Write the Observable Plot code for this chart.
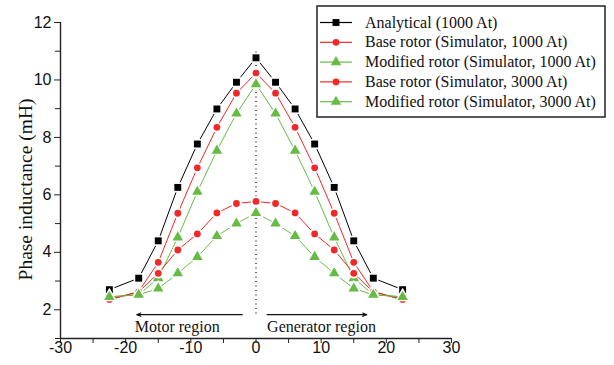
<!DOCTYPE html>
<html>
<head>
<meta charset="utf-8">
<script src="https://cdn.jsdelivr.net/npm/d3@7"></script>
<script src="https://cdn.jsdelivr.net/npm/@observablehq/plot@0.6"></script>
<style>
  html, body { margin: 0; padding: 0; background: white; }
  #wrap { position: relative; width: 614px; height: 365px; }
  #legend { position: absolute; left: 316px; top: 5px; }
</style>
</head>
<body>
<div id="wrap"></div>
<script>
// ---- data ----
const angles = [-22.5, -18, -15, -12, -9, -6, -3, 0, 3, 6, 9, 12, 15, 18, 22.5];
const analytical1000 = [2.70, 3.10, 4.40, 6.26, 7.77, 8.99, 9.92, 10.77, 9.92, 8.99, 7.77, 6.26, 4.40, 3.10, 2.70];
const base1000       = [2.34, 2.64, 3.65, 5.36, 6.94, 8.35, 9.54, 10.24, 9.54, 8.35, 6.94, 5.36, 3.65, 2.64, 2.34];
const modified1000   = [2.45, 2.53, 3.10, 4.52, 6.11, 7.54, 8.83, 9.85, 8.83, 7.54, 6.11, 4.52, 3.10, 2.53, 2.45];
const base3000       = [2.36, 2.62, 3.27, 4.08, 4.64, 5.37, 5.70, 5.77, 5.70, 5.37, 4.64, 4.08, 3.27, 2.62, 2.36];
const modified3000   = [2.45, 2.52, 2.74, 3.27, 3.84, 4.57, 5.00, 5.37, 5.00, 4.57, 3.84, 3.27, 2.74, 2.52, 2.45];

const seriesNames = [
  "Analytical (1000 At)",
  "Base rotor (Simulator, 1000 At)",
  "Modified rotor (Simulator, 1000 At)",
  "Base rotor (Simulator, 3000 At)",
  "Modified rotor (Simulator, 3000 At)"
];
const seriesValues = [analytical1000, base1000, modified1000, base3000, modified3000];
const seriesColors = ["#000000", "#f02828", "#66bb44", "#f02828", "#66bb44"];
const seriesSymbols = ["square", "circle", "triangle", "circle", "triangle"];
const seriesRadius = [3.9, 3.4, 3.9, 3.4, 3.9];

const xTicks = [-30, -25, -20, -15, -10, -5, 0, 5, 10, 15, 20, 25, 30];
const yTicksMajor = [2, 4, 6, 8, 10, 12];
const yTicksMinor = [1, 3, 5, 7, 9, 11];

const dividerX = [0];
const dividerSpan = [1.85, 11.05];
const regionArrows = [
  {x1: -2.1, x2: -18.3, y: 1.83},
  {x1: 1.7, x2: 17.0, y: 1.83}
];
const regionLabels = [
  {x: -18.6, y: 1.40, text: "Motor region"},
  {x: 1.7, y: 1.40, text: "Generator region"}
];
const yLabel = "Phase inductance (mH)";

// ---- chart ----
const serif = "'Liberation Serif', 'Times New Roman', serif";
const sans = "'Liberation Sans', Arial, sans-serif";

const seriesMarks = seriesValues.flatMap((vals, k) => {
  const data = angles.map((a, i) => ({x: a, y: vals[i]}));
  return [
    Plot.line(data, {x: "x", y: "y", stroke: seriesColors[k], strokeWidth: 1}),
    Plot.dot(data, {x: "x", y: "y", r: seriesRadius[k] + 1.8, symbol: seriesSymbols[k], fill: "white", stroke: "none"}),
    Plot.dot(data, {x: "x", y: "y", r: seriesRadius[k], symbol: seriesSymbols[k], fill: seriesColors[k], stroke: "none"})
  ];
});

const chart = Plot.plot({
  width: 614,
  height: 365,
  marginLeft: 60,
  marginRight: 163,
  marginTop: 22,
  marginBottom: 27,
  style: {background: "white", overflow: "visible"},
  x: {domain: [-30, 30]},
  y: {domain: [1, 12]},
  marks: [
    Plot.ruleX(dividerX, {y1: dividerSpan[0], y2: dividerSpan[1], stroke: "#000", strokeWidth: 1.2, strokeDasharray: "1.2,3.3"}),
    ...seriesMarks,
    Plot.arrow(regionArrows, {x1: "x1", y1: "y", x2: "x2", y2: "y", stroke: "#111", strokeWidth: 1.1, headLength: 6, headAngle: 45}),
    Plot.text(regionLabels, {x: "x", y: "y", text: "text", textAnchor: "start", fontFamily: serif, fontSize: 16, fill: "#111"}),
    Plot.axisX({ticks: xTicks, tickFormat: d => d % 10 === 0 ? String(d) : "", tickSize: 5, tickPadding: -2, fontSize: 16, fontFamily: sans, label: null, stroke: "#222", color: "#111"}),
    Plot.axisY({ticks: yTicksMajor, tickFormat: d => String(d), tickSize: 6, tickPadding: 3, fontSize: 16, fontFamily: sans, label: null, stroke: "#222", color: "#111"}),
    Plot.axisY({ticks: yTicksMinor, tickFormat: () => "", tickSize: 5, label: null, stroke: "#222"}),
    Plot.ruleX([-30], {stroke: "#222", strokeWidth: 1.4}),
    Plot.ruleY([1], {stroke: "#222", strokeWidth: 1.4}),
    Plot.text([yLabel], {text: d => d, frameAnchor: "left", textAnchor: "middle", rotate: -90, dx: -35, dy: 9, fontFamily: serif, fontSize: 19.5, fill: "#111"})
  ]
});

const wrap = document.getElementById("wrap");
wrap.appendChild(chart);

// ---- legend ----
const lw = 289, lh = 112;
const legend = d3.create("svg")
  .attr("id", "legend")
  .attr("width", lw + 2)
  .attr("height", lh + 2);
legend.append("rect")
  .attr("x", 1).attr("y", 1).attr("width", lw - 1).attr("height", lh - 1)
  .attr("fill", "white").attr("stroke", "#222").attr("stroke-width", 1.5);
const symbolMap = {square: d3.symbolSquare, circle: d3.symbolCircle, triangle: d3.symbolTriangle};
seriesNames.forEach((name, k) => {
  const cy = 17.5 + k * 19.8;
  const g = legend.append("g");
  g.append("line").attr("x1", 4).attr("x2", 36).attr("y1", cy).attr("y2", cy)
    .attr("stroke", seriesColors[k]).attr("stroke-width", 1.2);
  g.append("path")
    .attr("transform", `translate(20,${cy})`)
    .attr("d", d3.symbol(symbolMap[seriesSymbols[k]], Math.PI * seriesRadius[k] ** 2)())
    .attr("fill", seriesColors[k]);
  g.append("text").attr("x", 49).attr("y", cy).attr("dy", "0.32em")
    .attr("font-family", serif).attr("font-size", 16).attr("fill", "#111")
    .text(name);
});
wrap.appendChild(legend.node());
</script>
</body>
</html>
